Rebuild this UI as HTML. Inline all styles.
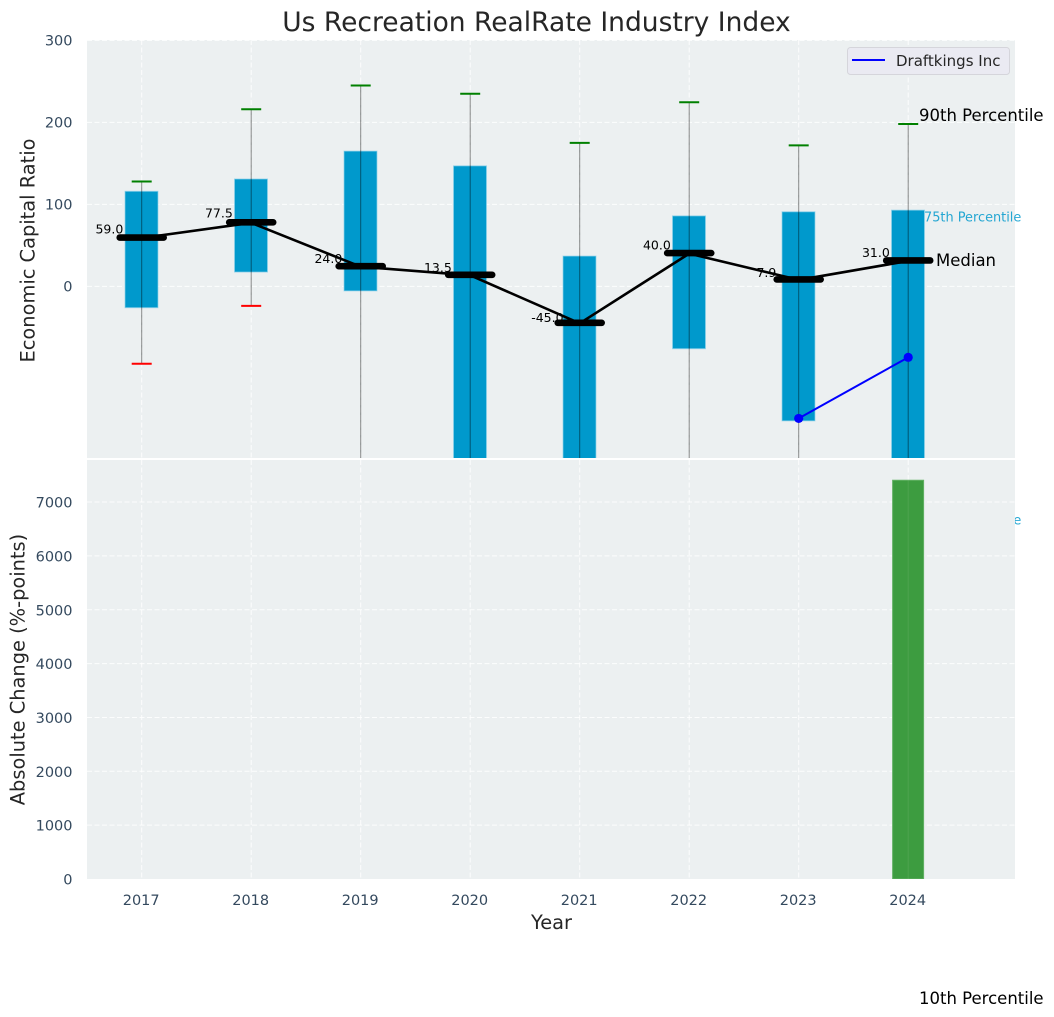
<!DOCTYPE html>
<html>
<head>
<meta charset="utf-8">
<title>Us Recreation RealRate Industry Index</title>
<style>
html,body{margin:0;padding:0;background:#fff;width:1054px;height:1017px;overflow:hidden}
svg{display:block;font-family:"DejaVu Sans","Liberation Sans",sans-serif}
</style>
</head>
<body>
<svg id="chart" width="1054" height="1017" viewBox="0 0 1054 1017" xmlns="http://www.w3.org/2000/svg">
<defs>
<clipPath id="clip-top"><rect x="87" y="40" width="928" height="418"></rect></clipPath>
<clipPath id="clip-bottom"><rect x="87" y="460" width="928" height="419"></rect></clipPath>
</defs>
</svg>
<script>
const years = [2017, 2018, 2019, 2020, 2021, 2022, 2023, 2024];
const p90 = [128, 216, 245, 235, 175, 224.5, 172, 198];
const p75 = [116, 131, 165, 147, 37, 86, 91, 93];
const medians = [59.0, 77.5, 24.0, 13.5, -45.0, 40.0, 7.9, 31.0];
const p25 = [-26, 17.5, -5.5, -320, -300, -76, -164, -340];
const p10 = [-94.3, -23.8, -420, -520, -480, -300, -340, -560];
const companyYears = [2023, 2024];
const companyValues = [-161, -86.5];
const changeValues = [0, 0, 0, 0, 0, 0, 0, 7405];
const topTicks = [0, 100, 200, 300];
const bottomTicks = [0, 1000, 2000, 3000, 4000, 5000, 6000, 7000];

const NS = 'http://www.w3.org/2000/svg';
const svg = document.getElementById('chart');
const x = function (v) { return 141.7 + (v - 2017) * 109.5; };
const yTop = function (v) { return 286.4 - v * 0.82; };
const yBottom = function (v) { return 879 - v * 0.05385; };

function make(parent, tag, attrs, text) {
  const el = document.createElementNS(NS, tag);
  for (const k in attrs) el.setAttribute(k, attrs[k]);
  if (text !== undefined) el.textContent = text;
  parent.appendChild(el);
  return el;
}
function group(parent, clip) {
  const g = document.createElementNS(NS, 'g');
  if (clip) g.setAttribute('clip-path', 'url(#' + clip + ')');
  parent.appendChild(g);
  return g;
}

const gridStyle = { stroke: '#ffffff', 'stroke-opacity': 0.85, 'stroke-width': 1, 'stroke-dasharray': '5 2.5' };
const tickColor = '#34495e';

/* title */
const title = make(svg, 'text', { x: 536.5, y: 31, 'text-anchor': 'middle', 'font-size': 26.5, fill: '#262626' }, 'Us Recreation RealRate Industry Index');



/* top panel background */
const topBg = make(svg, 'rect', { x: 87, y: 40, width: 928, height: 418, fill: '#ecf0f1' });



const topGrid = group(svg, 'clip-top');


topTicks.forEach(function (t) {
  make(topGrid, 'line', Object.assign({ x1: 87, x2: 1015, y1: yTop(t), y2: yTop(t) }, gridStyle));
});
years.forEach(function (yr) {
  make(topGrid, 'line', Object.assign({ x1: x(yr), x2: x(yr), y1: 40, y2: 458 }, gridStyle));
});

topTicks.forEach(function (t) {
  const lab = make(svg, 'text', { x: 72.5, y: yTop(t) + 5, 'text-anchor': 'end', 'font-size': 14.5, fill: tickColor }, String(t));
  
  
});

/* percentile annotations, 25th gets covered by lower panel except its tail */
const note25 = make(svg, 'text', { x: 924, y: 524.5, 'font-size': 12.9, fill: '#0099cc', 'fill-opacity': 0.85 }, '25th Percentile');



/* top panel marks */
const marks = group(svg, 'clip-top');


years.forEach(function (yr, i) {
  const cx = x(yr);
  const top = yTop(p75[i]);
  const box = make(marks, 'rect', { x: cx - 16.7, y: top, width: 33, height: yTop(p25[i]) - top, fill: '#0099cc', stroke: '#8fd2ea', 'stroke-opacity': 0.7, 'stroke-width': 1 });
  
  
  const whisker = make(marks, 'line', { x1: cx, x2: cx, y1: yTop(p90[i]), y2: yTop(p10[i]), stroke: '#000000', 'stroke-opacity': 0.45, 'stroke-width': 1 });
  
  
  const capHigh = make(marks, 'line', { x1: cx - 10, x2: cx + 10, y1: yTop(p90[i]), y2: yTop(p90[i]), stroke: '#008000', 'stroke-width': 2 });
  
  
  const capLow = make(marks, 'line', { x1: cx - 10, x2: cx + 10, y1: yTop(p10[i]), y2: yTop(p10[i]), stroke: '#ff0000', 'stroke-width': 2 });
  
  
});

years.forEach(function (yr, i) {
  const lab = make(svg, 'text', { x: x(yr) - 32.3, y: yTop(medians[i]) - 2.8 - 0.0327 * medians[i], 'text-anchor': 'middle', 'font-size': 12.5, fill: '#000000' }, medians[i].toFixed(1));
  
  
});

const medianPath = make(svg, 'polyline', {
  points: years.map(function (yr, i) { return x(yr) + ',' + yTop(medians[i]); }).join(' '),
  fill: 'none', stroke: '#000000', 'stroke-width': 2.6, 'stroke-linejoin': 'round'
});



years.forEach(function (yr, i) {
  const m = make(svg, 'line', { x1: x(yr) - 22, x2: x(yr) + 22, y1: yTop(medians[i]) - 0.5, y2: yTop(medians[i]) - 0.5, stroke: '#000000', 'stroke-width': 6.6, 'stroke-linecap': 'round' });
  
  
});

const companyLine = make(svg, 'polyline', {
  points: companyYears.map(function (yr, i) { return x(yr) + ',' + yTop(companyValues[i]); }).join(' '),
  fill: 'none', stroke: '#0000ff', 'stroke-width': 2
});


companyYears.forEach(function (yr, i) {
  const pt = make(svg, 'circle', { cx: x(yr), cy: yTop(companyValues[i]), r: 4.6, fill: '#0000ff' });
  
  
});

/* bottom panel */
const bottomBg = make(svg, 'rect', { x: 87, y: 460, width: 928, height: 419, fill: '#ecf0f1' });



const bottomGrid = group(svg, 'clip-bottom');


bottomTicks.forEach(function (t) {
  if (t === 0) return;
  make(bottomGrid, 'line', Object.assign({ x1: 87, x2: 1015, y1: yBottom(t), y2: yBottom(t) }, gridStyle));
});
years.forEach(function (yr) {
  make(bottomGrid, 'line', Object.assign({ x1: x(yr), x2: x(yr), y1: 460, y2: 879 }, gridStyle));
});

const bars = group(svg, 'clip-bottom');


years.forEach(function (yr, i) {
  if (changeValues[i] <= 0) return;
  const b = make(bars, 'rect', { x: x(yr) - 15.6, y: yBottom(changeValues[i]), width: 31, height: 879 - yBottom(changeValues[i]), fill: '#3d9c40', stroke: '#62b164', 'stroke-width': 1 });
  
  
  const seam = make(bars, 'line', { x1: x(yr), x2: x(yr), y1: yBottom(changeValues[i]), y2: 879, stroke: '#ffffff', 'stroke-opacity': 0.08, 'stroke-width': 1 });
  
  
});

bottomTicks.forEach(function (t) {
  const lab = make(svg, 'text', { x: 72.5, y: yBottom(t) + 5.5, 'text-anchor': 'end', 'font-size': 14.5, fill: tickColor }, String(t));
  
  
});
years.forEach(function (yr) {
  const lab = make(svg, 'text', { x: x(yr) - 0.5, y: 905, 'text-anchor': 'middle', 'font-size': 14.5, fill: tickColor }, String(yr));
  
  
});

/* axis titles */
const xTitle = make(svg, 'text', { x: 551.5, y: 929, 'text-anchor': 'middle', 'font-size': 19.4, fill: '#262626' }, 'Year');


const yTitleTop = make(svg, 'text', { transform: 'translate(34.5,250.5) rotate(-90)', 'text-anchor': 'middle', 'font-size': 19.4, fill: '#262626' }, 'Economic Capital Ratio');


const yTitleBottom = make(svg, 'text', { transform: 'translate(24.5,669.5) rotate(-90)', 'text-anchor': 'middle', 'font-size': 19.4, fill: '#262626' }, 'Absolute Change (%-points)');



/* annotations */
const note90 = make(svg, 'text', { x: 919, y: 121, 'font-size': 16.5, fill: '#000000' }, '90th Percentile');


const note75 = make(svg, 'text', { x: 924, y: 221.5, 'font-size': 12.9, fill: '#0099cc', 'fill-opacity': 0.85 }, '75th Percentile');


const noteMedian = make(svg, 'text', { x: 936, y: 266, 'font-size': 16.5, fill: '#000000' }, 'Median');


const note10 = make(svg, 'text', { x: 919, y: 1004, 'font-size': 16.5, fill: '#000000' }, '10th Percentile');



/* legend */
const legend = group(svg);


make(legend, 'rect', { x: 847.5, y: 47.5, width: 162, height: 27, rx: 3, fill: '#eaeaf2', stroke: '#d5d5db', 'stroke-width': 1 });
const swatch = make(legend, 'line', { x1: 852, x2: 885, y1: 60, y2: 60, stroke: '#0000ff', 'stroke-width': 2 });


const legendText = make(legend, 'text', { x: 896, y: 66, 'font-size': 15, fill: '#262626' }, 'Draftkings Inc');


</script>
</body>
</html>
